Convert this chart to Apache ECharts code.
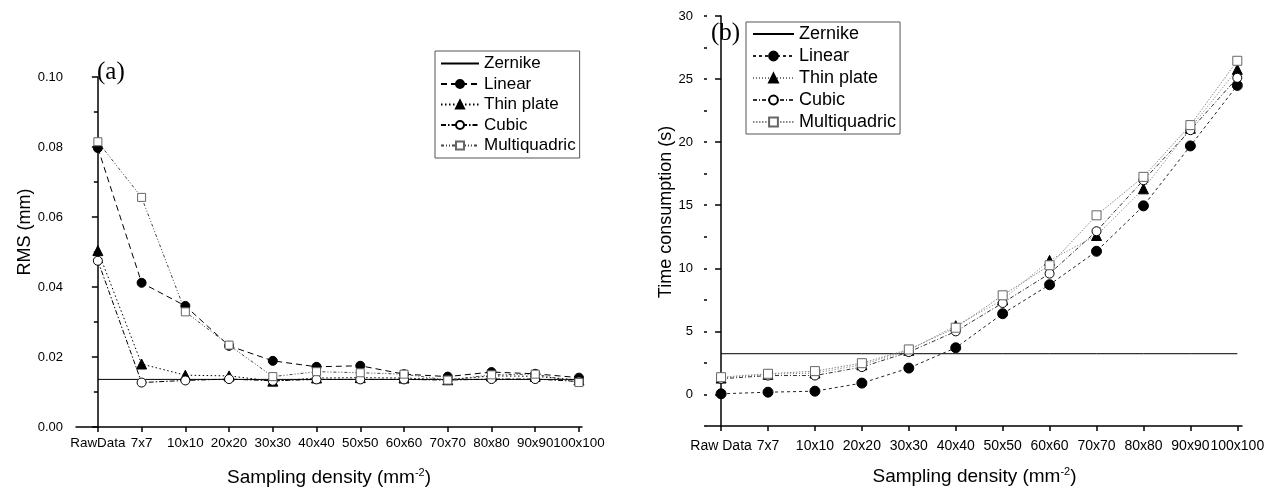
<!DOCTYPE html>
<html>
<head>
<meta charset="utf-8">
<script src="https://cdn.jsdelivr.net/npm/echarts@6/dist/echarts.min.js"></script>
<style>
  html, body { margin: 0; padding: 0; background: #fff; }
  #main { width: 1277px; height: 488px; }
</style>
</head>
<body>
<div id="main"></div>
<script>
// categories (x tick labels)
var catsA = ['RawData', '7x7', '10x10', '20x20', '30x30', '40x40', '50x50', '60x60', '70x70', '80x80', '90x90', '100x100'];
var catsB = ['Raw Data', '7x7', '10x10', '20x20', '30x30', '40x40', '50x50', '60x60', '70x70', '80x80', '90x90', '100x100'];

// (a) RMS (mm)
var rmsZernike   = [0.0136, 0.0136, 0.0136, 0.0136, 0.0136, 0.0136, 0.0136, 0.0136, 0.0136, 0.0136, 0.0136, 0.0136];
var rmsLinear    = [0.0797, 0.0412, 0.0346, 0.0232, 0.0189, 0.0172, 0.0175, 0.0151, 0.0144, 0.0157, 0.0152, 0.0141];
var rmsThinPlate = [0.0504, 0.0180, 0.0148, 0.0146, 0.0131, 0.0140, 0.0141, 0.0140, 0.0135, 0.0146, 0.0145, 0.0134];
var rmsCubic     = [0.0475, 0.0127, 0.0133, 0.0137, 0.0132, 0.0136, 0.0136, 0.0136, 0.0134, 0.0137, 0.0137, 0.0130];
var rmsMulti     = [0.0815, 0.0656, 0.0329, 0.0234, 0.0144, 0.0158, 0.0155, 0.0151, 0.0134, 0.0149, 0.0151, 0.0127];

// (b) Time consumption (s)
var timeZernike   = [3.23, 3.23, 3.23, 3.23, 3.23, 3.23, 3.23, 3.23, 3.23, 3.23, 3.23, 3.23];
var timeLinear    = [0.05, 0.18, 0.26, 0.90, 2.09, 3.70, 6.40, 8.70, 11.35, 14.95, 19.70, 24.50];
var timeThinPlate = [1.30, 1.60, 1.70, 2.35, 3.50, 5.45, 7.50, 10.63, 12.60, 16.30, 21.10, 25.77];
var timeCubic     = [1.24, 1.50, 1.50, 2.17, 3.36, 5.00, 7.25, 9.58, 12.94, 16.98, 20.95, 25.10];
var timeMulti     = [1.37, 1.64, 1.85, 2.48, 3.57, 5.29, 7.86, 10.24, 14.20, 17.25, 21.35, 26.45];

var yTicksB = [0, 5, 10, 15, 20, 25, 30];

var FONT = '"Liberation Sans", Arial, sans-serif';
var idx = catsA.map(function (c, i) { return i; });

function pairs(arr) {
    return arr.map(function (v, i) { return [i, v]; });
}

function mkSeries(name, data, grid, symbol, size, fill, stroke, lineColor, dash) {
    return {
        name: name,
        type: 'line',
        xAxisIndex: grid,
        yAxisIndex: grid == 0 ? 0 : 1,
        data: pairs(data),
        symbol: symbol,
        symbolSize: size,
        itemStyle: { color: fill, borderColor: stroke, borderWidth: 1 },
        lineStyle: { color: lineColor, width: 1, type: dash },
        emphasis: { disabled: true },
        z: 3
    };
}

function xAxisOf(grid, cats, min, max, margin, fontSize) {
    return {
        type: 'value',
        gridIndex: grid,
        min: min,
        max: max,
        name: '{t|Sampling density (mm}{s|-2}{t|)}',
        nameLocation: 'middle',
        nameGap: 40,
        nameTextStyle: {
            rich: {
                t: { fontFamily: FONT, fontSize: 19, color: '#000' },
                s: { fontFamily: FONT, fontSize: 11, color: '#000', padding: [0, 0, 10, 0] }
            }
        },
        axisLine: { show: true, onZero: false, lineStyle: { color: '#000', width: 1.5 } },
        axisTick: { show: true, length: 5, customValues: idx, lineStyle: { color: '#000', width: 1.5 } },
        axisLabel: {
            customValues: idx,
            margin: margin,
            hideOverlap: false,
            showMinLabel: true,
            showMaxLabel: true,
            fontFamily: FONT, fontSize: fontSize, color: '#000',
            formatter: function (v) { return cats[Math.round(v)]; }
        },
        splitLine: { show: false }
    };
}

function legendData(names) {
    // first entry (Zernike) is a plain line: hide the legend marker
    return names.map(function (n, i) {
        return i == 0 ? { name: n, itemStyle: { opacity: 0 } } : { name: n };
    });
}

var chart = echarts.init(document.getElementById('main'));

var option = {
    animation: false,
    backgroundColor: '#fff',
    grid: [
        { left: 76, right: 695, top: 77, bottom: 61, outerBoundsMode: 'none' },
        { left: 707, right: 35, top: 16, bottom: 62, outerBoundsMode: 'none' }
    ],
    xAxis: [
        xAxisOf(0, catsA, -0.5, 11.07, 10, 13.4),
        xAxisOf(1, catsB, -0.3, 11.1, 13, 14)
    ],
    yAxis: [
        {
            type: 'value', gridIndex: 0, min: 0, max: 0.1, interval: 0.02,
            name: 'RMS (mm)', nameLocation: 'middle', nameGap: 42,
            nameTextStyle: { fontFamily: FONT, fontSize: 18, color: '#000', padding: [0, 0, 0, 40] },
            axisLine: { show: true, lineStyle: { color: '#000', width: 1.5 } },
            axisTick: { show: true, length: 6, lineStyle: { color: '#000', width: 1.5 } },
            minorTick: { show: true, splitNumber: 2, length: 4, lineStyle: { color: '#000', width: 1.5 } },
            axisLabel: { fontFamily: FONT, fontSize: 13, color: '#000', margin: 13,
                formatter: function (v) { return v.toFixed(2); } },
            splitLine: { show: false }
        },
        {
            type: 'value', gridIndex: 1, position: 'left', min: -2.5, max: 30,
            name: 'Time consumption (s)', nameLocation: 'middle', nameGap: 31,
            nameTextStyle: { fontFamily: FONT, fontSize: 18, color: '#000', padding: [0, 0, 0, 18] },
            axisLine: { show: true, lineStyle: { color: '#000', width: 1.5 } },
            axisTick: { show: true, length: 6, customValues: yTicksB, lineStyle: { color: '#000', width: 1.5 } },
            axisLabel: { customValues: yTicksB, fontFamily: FONT, fontSize: 13, color: '#000', margin: 14 },
            splitLine: { show: false }
        },
        {
            // minor ticks of (b)
            type: 'value', gridIndex: 1, position: 'left', offset: 0, min: -2.5, max: 30, interval: 2.5,
            axisLine: { show: false },
            axisTick: { show: true, length: 3, lineStyle: { color: '#000', width: 1.5 } },
            axisLabel: { show: false },
            splitLine: { show: false }
        }
    ],
    legend: [
        {
            orient: 'vertical', left: 435, top: 51,
            data: legendData(['Zernike', 'Linear', 'Thin plate', 'Cubic', 'Multiquadric']),
            itemWidth: 38, itemHeight: 10, itemGap: 3.5,
            padding: [4, 4, 4, 5],
            borderColor: '#555', borderWidth: 1,
            selectedMode: false,
            textStyle: { fontFamily: FONT, fontSize: 17, color: '#000' }
        },
        {
            orient: 'vertical', left: 746, top: 22,
            data: legendData(['Zernike ', 'Linear ', 'Thin plate ', 'Cubic ', 'Multiquadric ']),
            formatter: function (name) { return name.trim(); },
            itemWidth: 41, itemHeight: 11, itemGap: 4,
            padding: [3, 4, 3, 6],
            borderColor: '#555', borderWidth: 1,
            selectedMode: false,
            textStyle: { fontFamily: FONT, fontSize: 18, color: '#000' }
        }
    ],
    graphic: [
        { type: 'text', left: 97, top: 60, style: { text: '(a)', font: '25px "Liberation Serif", "DejaVu Serif", serif', fill: '#000' } },
        { type: 'text', left: 711, top: 21, style: { text: '(b)', font: '25px "Liberation Serif", "DejaVu Serif", serif', fill: '#000' } }
    ],
    series: [
        mkSeries('Zernike', rmsZernike, 0, 'none', 0, '#000', '#000', '#000', 'solid'),
        mkSeries('Linear', rmsLinear, 0, 'circle', 9, '#000', '#000', '#000', [6, 4]),
        mkSeries('Thin plate', rmsThinPlate, 0, 'triangle', 10, '#000', '#000', '#000', [1.5, 2.5]),
        mkSeries('Cubic', rmsCubic, 0, 'circle', 9, '#fff', '#000', '#000', [5, 2, 1.5, 2]),
        mkSeries('Multiquadric', rmsMulti, 0, 'rect', 8, '#fff', '#666', '#444', [3, 2, 1, 2, 1, 2]),

        mkSeries('Zernike ', timeZernike, 1, 'none', 0, '#000', '#000', '#000', 'solid'),
        mkSeries('Linear ', timeLinear, 1, 'circle', 10, '#000', '#000', '#222', [3, 3]),
        mkSeries('Thin plate ', timeThinPlate, 1, 'triangle', 10, '#000', '#000', '#777', [1, 2]),
        mkSeries('Cubic ', timeCubic, 1, 'circle', 9, '#fff', '#000', '#333', [4, 2, 1, 2]),
        mkSeries('Multiquadric ', timeMulti, 1, 'rect', 9, '#fff', '#666', '#888', [1.5, 1.5])
    ]
};

chart.setOption(option);
</script>
</body>
</html>
